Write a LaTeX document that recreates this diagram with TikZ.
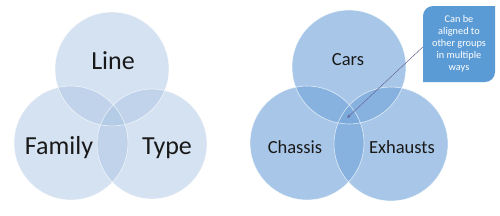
\documentclass[tikz,border=0pt]{standalone}
\usepackage{fontspec}
\setmainfont{Carlito}
\usetikzlibrary{arrows.meta}
\definecolor{leftblue}{RGB}{172,198,228}
\definecolor{rightblue}{RGB}{116,166,218}
\definecolor{calloutblue}{RGB}{91,155,213}
\definecolor{labeltext}{RGB}{25,25,25}
\tikzset{
  lcircle/.style={fill=leftblue,fill opacity=0.5},
  rcircle/.style={fill=rightblue,fill opacity=0.62},
  rim/.style={white,opacity=0.7,line width=0.6pt},
  biglabel/.style={text=labeltext,font=\fontsize{26}{30}\selectfont,inner sep=0pt},
  midlabel/.style={text=labeltext,font=\fontsize{18.5}{22}\selectfont,inner sep=0pt},
  callout/.style={text=white,font=\fontsize{10.3}{12}\selectfont,align=center,inner sep=0pt,minimum width=72pt,minimum height=76pt},
  pointer/.style={draw=gray!80!blue,line width=0.5pt,-{Stealth[length=4pt,width=3pt]}}
}
\begin{document}
\begin{tikzpicture}[x=1pt,y=1pt]
\useasboundingbox (0,0) rectangle (500,215);
\fill[white] (0,0) rectangle (500,215);
% left venn
\fill[lcircle] (112,146) circle (57);
\fill[lcircle] (71,72) circle (57);
\fill[lcircle] (152,71) circle (55);
\draw[rim] (112,146) circle (57) (71,72) circle (57) (152,71) circle (55);
\node[biglabel] (line) at (113,154) {Line};
\node[biglabel] (family) at (59,67) {Family};
\node[biglabel] (type) at (167,67) {Type};
% right venn
\fill[rcircle] (349,148) circle (57);
\fill[rcircle] (307,72) circle (57);
\fill[rcircle] (391,71) circle (57);
\draw[rim] (349,148) circle (57) (307,72) circle (57) (391,71) circle (57);
\node[midlabel] (cars) at (348,155) {Cars};
\node[midlabel] (chassis) at (295,68) {Chassis};
\node[midlabel] (exhausts) at (402,68) {Exhausts};
% callout
\fill[calloutblue] (495,209) -- (495,143) arc[start angle=0,end angle=-90,radius=10] -- (423,133) -- (423,199) arc[start angle=180,end angle=90,radius=10] -- cycle;
\node[callout] (box) at (459,171) {Can be\\aligned to\\other groups\\in multiple\\ways};
\coordinate (tip) at (347,97);
\draw[pointer] ([yshift=-3pt]box.west) -- (tip);
\end{tikzpicture}
\end{document}
